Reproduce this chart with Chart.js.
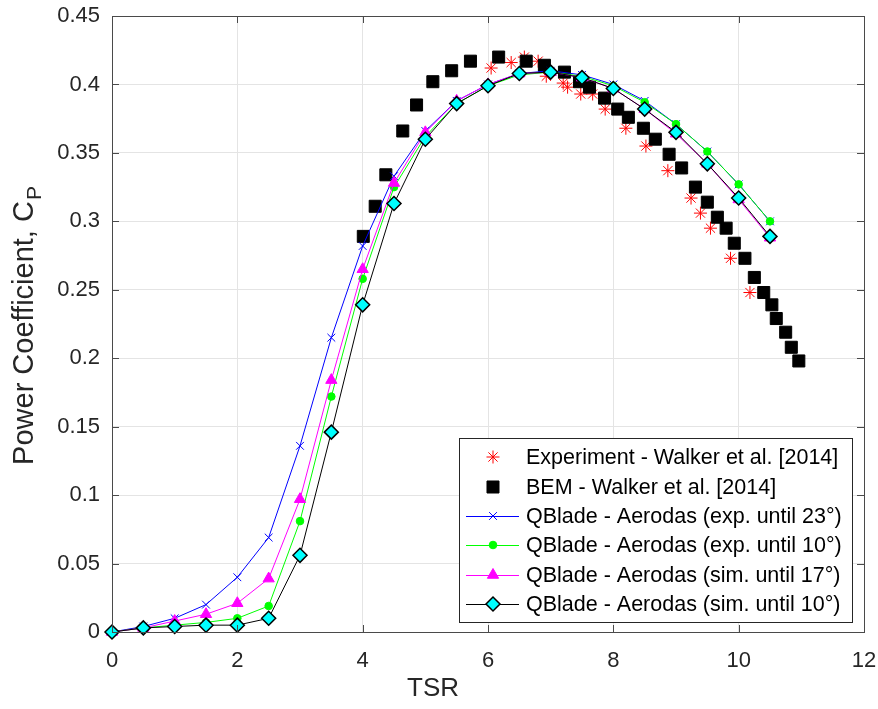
<!DOCTYPE html>
<html><head><meta charset="utf-8">
<script src="https://cdn.jsdelivr.net/npm/chart.js@4.4.0/dist/chart.umd.min.js"></script>
<style>html,body{margin:0;padding:0;background:#fff;}#wrap{width:878px;height:709px;}</style>
</head><body><div id="wrap"><canvas id="c" width="878" height="709"></canvas></div>
<script>
// ---- data ----
const tsr = [0,0.5,1,1.5,2,2.5,3,3.5,4,4.5,5,5.5,6,6.5,7,7.5,8,8.5,9,9.5,10,10.5];
const cpExp23 = [0,0.004,0.010,0.020,0.040,0.069,0.136,0.215,0.282,0.333,0.366,0.388,0.400,0.408,0.410,0.407,0.400,0.388,0.371,0.351,0.327,0.300];
const cpExp10 = [0,0.003,0.005,0.007,0.010,0.019,0.081,0.172,0.258,0.325,0.362,0.386,0.399,0.407,0.409,0.406,0.399,0.387,0.371,0.351,0.327,0.300];
const cpSim17 = [0,0.003,0.008,0.013,0.021,0.039,0.097,0.184,0.265,0.328,0.365,0.388,0.400,0.408,0.409,0.405,0.397,0.382,0.364,0.342,0.316,0.288];
const cpSim10 = [0,0.003,0.004,0.005,0.005,0.010,0.056,0.146,0.239,0.313,0.360,0.386,0.399,0.408,0.409,0.405,0.397,0.382,0.365,0.342,0.317,0.289];
const expTsr = [6.05,6.37,6.58,6.80,6.93,7.20,7.27,7.48,7.67,7.87,8.20,8.52,8.87,9.24,9.39,9.55,9.87,10.18];
const expCp  = [0.412,0.416,0.420,0.417,0.406,0.401,0.398,0.393,0.393,0.382,0.368,0.355,0.337,0.317,0.306,0.295,0.273,0.248];
const bemTsr = [4.01,4.20,4.37,4.64,4.86,5.12,5.42,5.72,6.17,6.61,6.90,7.22,7.46,7.62,7.86,8.07,8.24,8.48,8.67,8.89,9.09,9.31,9.50,9.66,9.80,9.93,10.10,10.25,10.40,10.53,10.60,10.75,10.84,10.96];
const bemCp  = [0.289,0.311,0.334,0.366,0.385,0.402,0.410,0.417,0.420,0.417,0.414,0.409,0.402,0.398,0.390,0.382,0.376,0.368,0.360,0.349,0.339,0.325,0.314,0.303,0.295,0.284,0.273,0.259,0.248,0.239,0.229,0.219,0.208,0.198];
const seriesNames = [
  'Experiment - Walker et al. [2014]',
  'BEM - Walker et al. [2014]',
  'QBlade - Aerodas (exp. until 23°)',
  'QBlade - Aerodas (exp. until 10°)',
  'QBlade - Aerodas (sim. until 17°)',
  'QBlade - Aerodas (sim. until 10°)'
];
const xTickValues = [0,2,4,6,8,10,12];
const xTickLabels = ['0','2','4','6','8','10','12'];
const yTickValues = [0,0.05,0.1,0.15,0.2,0.25,0.3,0.35,0.4,0.45];
const yTickLabels = ['0','0.05','0.1','0.15','0.2','0.25','0.3','0.35','0.4','0.45'];
const xTitle = 'TSR';
const yTitleMain = 'Power Coefficient, C';
const yTitleSub = 'P';

// ---- styles ----
const FONT = "'Liberation Sans', Arial, Helvetica, sans-serif";
const TXT = '#262626';
const styles = [
  {pointStyle:'star', radius:6.5, fill:'#ff0000', stroke:'#ff0000', lw:1, line:null},
  {pointStyle:'rect', radius:8.5, fill:'#000000', stroke:'#000000', lw:1, line:null},
  {pointStyle:'crossRot', radius:5.5, fill:'#0000ff', stroke:'#0000ff', lw:1, line:'#0000ff'},
  {pointStyle:'circle', radius:3.8, fill:'#00ff00', stroke:'#00ff00', lw:1, line:'#00ff00'},
  {pointStyle:'triangle', radius:6.5, fill:'#ff00ff', stroke:'#ff00ff', lw:1, line:'#ff00ff'},
  {pointStyle:'rectRot', radius:7, fill:'#00ffff', stroke:'#000000', lw:1.5, line:'#000000'}
];
const pairs = (xs, ys) => xs.map((x, i) => ({x, y: ys[i]}));
const seriesData = [pairs(expTsr, expCp), pairs(bemTsr, bemCp), pairs(tsr, cpExp23), pairs(tsr, cpExp10), pairs(tsr, cpSim17), pairs(tsr, cpSim10)];

const datasets = seriesData.map((d, i) => {
  const s = styles[i];
  return {
    label: seriesNames[i], data: d, order: 6 - i, clip: false,
    showLine: !!s.line, borderColor: s.line || s.stroke, borderWidth: 1, tension: 0,
    pointStyle: s.pointStyle, pointRadius: s.radius, pointHoverRadius: s.radius,
    pointBackgroundColor: s.fill, pointBorderColor: s.stroke, pointBorderWidth: s.lw
  };
});

function drawMarker(ctx, s, x, y) {
  const r = s.radius;
  ctx.save();
  ctx.fillStyle = s.fill; ctx.strokeStyle = s.stroke; ctx.lineWidth = s.lw;
  ctx.beginPath();
  switch (s.pointStyle) {
    case 'circle': ctx.arc(x, y, r, 0, Math.PI*2); ctx.fill(); ctx.stroke(); break;
    case 'rect': { const h = Math.SQRT1_2*r; ctx.rect(x-h, y-h, 2*h, 2*h); ctx.fill(); ctx.stroke(); break; }
    case 'rectRot': ctx.moveTo(x-r, y); ctx.lineTo(x, y-r); ctx.lineTo(x+r, y); ctx.lineTo(x, y+r); ctx.closePath(); ctx.fill(); ctx.stroke(); break;
    case 'triangle': { ctx.moveTo(x, y-r); ctx.lineTo(x+Math.sin(2*Math.PI/3)*r, y-Math.cos(2*Math.PI/3)*r); ctx.lineTo(x+Math.sin(4*Math.PI/3)*r, y-Math.cos(4*Math.PI/3)*r); ctx.closePath(); ctx.fill(); ctx.stroke(); break; }
    case 'crossRot': { const o = Math.SQRT1_2*r; ctx.moveTo(x-o,y-o); ctx.lineTo(x+o,y+o); ctx.moveTo(x-o,y+o); ctx.lineTo(x+o,y-o); ctx.stroke(); break; }
    case 'star': { const o = Math.SQRT1_2*r; ctx.moveTo(x-r,y); ctx.lineTo(x+r,y); ctx.moveTo(x,y-r); ctx.lineTo(x,y+r); ctx.moveTo(x-o,y-o); ctx.lineTo(x+o,y+o); ctx.moveTo(x-o,y+o); ctx.lineTo(x+o,y-o); ctx.stroke(); break; }
  }
  ctx.restore();
}

const frame = {
  id: 'frame',
  afterDatasetsDraw(chart) {
    const {ctx, chartArea: a, scales} = chart;
    ctx.save();
    ctx.strokeStyle = '#4a4a4a'; ctx.lineWidth = 1;
    ctx.beginPath();
    xTickValues.forEach(v => { const px = Math.round(scales.x.getPixelForValue(v)) + 0.5;
      ctx.moveTo(px, a.bottom); ctx.lineTo(px, a.bottom - 7); ctx.moveTo(px, a.top); ctx.lineTo(px, a.top + 7); });
    yTickValues.forEach(v => { const py = Math.round(scales.y.getPixelForValue(v)) + 0.5;
      ctx.moveTo(a.left, py); ctx.lineTo(a.left + 7, py); ctx.moveTo(a.right, py); ctx.lineTo(a.right - 7, py); });
    ctx.stroke();
    ctx.strokeRect(Math.round(a.left)+0.5, Math.round(a.top)+0.5, Math.round(a.right-a.left), Math.round(a.bottom-a.top));
    ctx.restore();
  },
  afterDraw(chart) {
    const {ctx, chartArea: a} = chart;
    // x-axis title
    ctx.save();
    ctx.fillStyle = TXT; ctx.textAlign = 'center'; ctx.textBaseline = 'middle';
    ctx.font = '26px ' + FONT;
    ctx.fillText(xTitle, 433, 689);
    ctx.restore();
    // y-axis title with subscript
    ctx.save();
    ctx.translate(25, (a.top + a.bottom) / 2 + 2);
    ctx.rotate(-Math.PI/2);
    ctx.fillStyle = TXT; ctx.textBaseline = 'middle'; ctx.textAlign = 'left';
    ctx.font = '29px ' + FONT;
    const w = ctx.measureText(yTitleMain).width;
    ctx.font = '21px ' + FONT;
    const ws = ctx.measureText(yTitleSub).width;
    const x0 = -(w + ws) / 2;
    ctx.font = '29px ' + FONT;
    ctx.fillText(yTitleMain, x0, 0);
    ctx.font = '21px ' + FONT;
    ctx.fillText(yTitleSub, x0 + w + 1, 10);
    ctx.restore();
    // legend
    const L = 459, T = 438, R = 852, B = 622;
    ctx.save();
    ctx.fillStyle = '#ffffff'; ctx.fillRect(L, T, R-L, B-T);
    ctx.strokeStyle = '#262626'; ctx.lineWidth = 1;
    ctx.strokeRect(L+0.5, T+0.5, R-L, B-T);
    const rows = [457, 487, 516, 545, 575, 604];
    ctx.font = '21.5px ' + FONT; ctx.textBaseline = 'middle'; ctx.textAlign = 'left';
    seriesNames.forEach((n, i) => {
      const s = styles[i], y = rows[i];
      if (s.line) { ctx.strokeStyle = s.line; ctx.lineWidth = 1; ctx.beginPath(); ctx.moveTo(466, y+0.5); ctx.lineTo(519, y+0.5); ctx.stroke(); }
      drawMarker(ctx, s, 493, y);
      ctx.fillStyle = '#000000';
      ctx.fillText(n, 526, y + 1);
    });
    ctx.restore();
  }
};

new Chart(document.getElementById('c'), {
  type: 'scatter',
  data: {datasets},
  options: {
    responsive: false, animation: false, devicePixelRatio: 1,
    layout: {padding: {left: 0, top: 16, right: 14, bottom: 0}},
    plugins: {legend: {display: false}, tooltip: {enabled: false}},
    scales: {
      x: {
        type: 'linear', min: 0, max: 12,
        afterBuildTicks: s => { s.ticks = xTickValues.map(v => ({value: v})); },
        afterFit: s => { s.height = 77; s.paddingLeft = 0; s.paddingRight = 0; },
        grid: {color: '#e4e4e4', drawTicks: false, tickLength: 0},
        border: {display: false},
        ticks: {padding: 16, color: TXT, font: {family: FONT, size: 22}, callback: (v, i) => xTickLabels[i], maxRotation: 0},
        title: {display: false}
      },
      y: {
        type: 'linear', min: 0, max: 0.45,
        afterBuildTicks: s => { s.ticks = yTickValues.map(v => ({value: v})); },
        afterFit: s => { s.width = 112; s.paddingTop = 0; s.paddingBottom = 0; },
        grid: {color: '#e4e4e4', drawTicks: false, tickLength: 0},
        border: {display: false},
        ticks: {padding: 12, color: TXT, font: {family: FONT, size: 22}, callback: (v, i) => yTickLabels[i]}
      }
    }
  },
  plugins: [frame]
});
</script></body></html>
